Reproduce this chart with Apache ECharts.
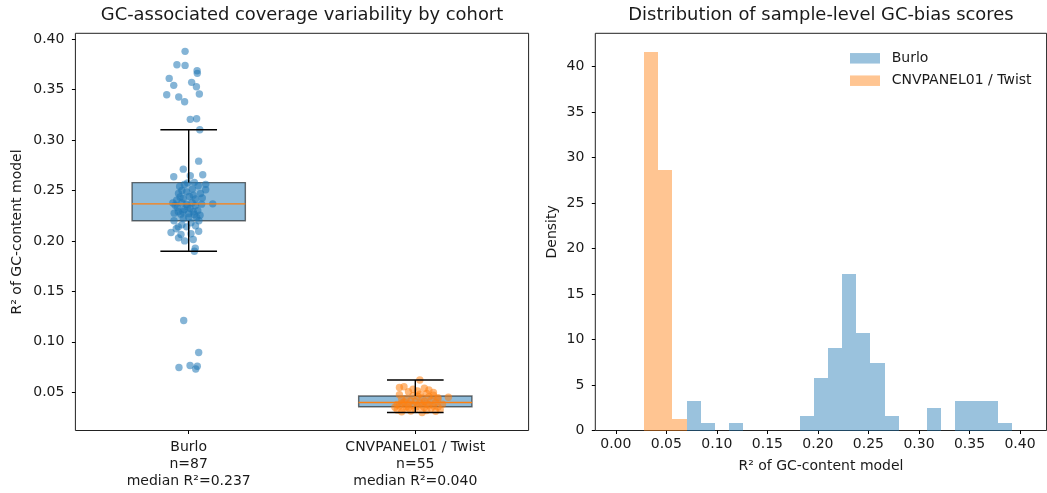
<!DOCTYPE html>
<html>
<head>
<meta charset="utf-8">
<script src="https://cdn.jsdelivr.net/npm/echarts@6/dist/echarts.min.js"></script>
<style>
  html, body { margin: 0; padding: 0; background: #fff; }
  #chart { width: 1047px; height: 493px; }
</style>
</head>
<body>
<div id="chart"></div>
<script>
// ---- data -------------------------------------------------------------
const cohorts = ['Burlo', 'CNVPANEL01 / Twist'];

// per-sample R² of the GC-content model: [horizontal jitter, R²]
const burloPoints = [
  [-0.016, 0.3878], [-0.052, 0.3745], [-0.016, 0.3739], [0.037, 0.3686], [0.038, 0.3660],
  [-0.086, 0.3610], [-0.066, 0.3541], [0.013, 0.3571], [0.034, 0.3527], [0.047, 0.3455],
  [-0.097, 0.3448], [-0.044, 0.3425], [-0.018, 0.3378], [0.007, 0.3204], [0.035, 0.3210],
  [0.049, 0.3101], [0.044, 0.2790], [-0.024, 0.2711],
  [-0.066, 0.2635], [0.007, 0.2645], [0.062, 0.2655], [-0.019, 0.2559], [0.025, 0.2580],
  [0.042, 0.2546], [0.075, 0.2560], [-0.005, 0.2575], [-0.040, 0.2540],
  [0.075, 0.2506], [0.016, 0.2513], [-0.009, 0.2486], [-0.038, 0.2436], [-0.024, 0.2420],
  [0.020, 0.2453], [-0.053, 0.2404], [0.052, 0.2470], [-0.030, 0.2500], [0.003, 0.2440],
  [-0.045, 0.2470], [0.030, 0.2415], [0.060, 0.2425],
  [0.057, 0.2364], [0.106, 0.2367], [-0.060, 0.2354], [0.006, 0.2321], [-0.046, 0.2288],
  [0.020, 0.2288], [0.050, 0.2255], [-0.070, 0.2376], [-0.030, 0.2375], [-0.010, 0.2360],
  [0.030, 0.2350], [-0.050, 0.2330], [-0.020, 0.2310], [0.040, 0.2300], [-0.064, 0.2275],
  [0.000, 0.2270], [-0.035, 0.2265], [0.015, 0.2378], [-0.005, 0.2340], [0.025, 0.2262],
  [-0.025, 0.2290],
  [-0.024, 0.2222], [-0.046, 0.2139], [-0.009, 0.2139], [0.035, 0.2232], [-0.065, 0.2200],
  [0.010, 0.2180], [-0.030, 0.2160], [0.045, 0.2200], [0.000, 0.2235], [-0.055, 0.2120],
  [0.030, 0.2150],
  [-0.078, 0.2083], [-0.034, 0.2063], [0.044, 0.2095], [-0.018, 0.2000], [0.020, 0.2014],
  [0.010, 0.2070], [-0.045, 0.2030],
  [0.029, 0.1928], [0.025, 0.1898],
  [-0.022, 0.1211], [0.044, 0.0894], [-0.043, 0.0745], [0.006, 0.0765], [0.038, 0.0758],
  [0.031, 0.0731]
];

const twistPoints = [
  [0.03, 0.0300], [-0.06, 0.0306], [0.09, 0.0311], [-0.02, 0.0315], [0.05, 0.0320],
  [-0.08, 0.0324], [0.11, 0.0328], [0.00, 0.0332], [-0.05, 0.0337], [0.07, 0.0341],
  [-0.03, 0.0345], [0.04, 0.0349], [-0.09, 0.0352], [0.10, 0.0355], [-0.04, 0.0357],
  [0.01, 0.0360], [0.08, 0.0363], [-0.07, 0.0366], [0.03, 0.0369], [-0.01, 0.0372],
  [0.06, 0.0375], [-0.08, 0.0378], [0.12, 0.0381], [-0.03, 0.0384], [0.05, 0.0388],
  [-0.06, 0.0391], [0.02, 0.0394], [0.09, 0.0398], [-0.05, 0.0403], [0.00, 0.0408],
  [0.04, 0.0412], [-0.02, 0.0416], [0.07, 0.0422], [-0.06, 0.0428], [0.10, 0.0433],
  [-0.04, 0.0438], [0.03, 0.0443], [0.10, 0.0447], [0.146, 0.0451], [0.06, 0.0455],
  [0.01, 0.0461], [-0.01, 0.0465], [0.08, 0.0470], [-0.07, 0.0476], [0.02, 0.0482],
  [0.05, 0.0489], [0.08, 0.0497], [-0.03, 0.0505], [0.01, 0.0513], [0.06, 0.0522],
  [-0.01, 0.0530], [0.04, 0.0540], [-0.07, 0.0547], [-0.05, 0.0555], [0.02, 0.0622]
];

// histogram bin edges (width 0.014)
const binEdges = [
  0.000, 0.014, 0.028, 0.042, 0.056, 0.070, 0.084, 0.098, 0.112, 0.126,
  0.140, 0.154, 0.168, 0.182, 0.196, 0.210, 0.224, 0.238, 0.252, 0.266,
  0.280, 0.294, 0.308, 0.322, 0.336, 0.350, 0.364, 0.378, 0.392, 0.406
];

const leftYTicks = [0.05, 0.40];   // first / last labelled tick, step 0.05
const rightXTicks = [0.00, 0.40];  // step 0.05
const rightYTicks = [0, 40];       // step 5

// ---- helpers ------------------------------------------------------------
const FONT = '"DejaVu Sans", "Liberation Sans", sans-serif';
const INK = '#1a1a1a';
const BLUE = '#1f77b4';
const ORANGE = '#ff7f0e';

function percentile(sorted, p) {
  const idx = (sorted.length - 1) * p;
  const lo = Math.floor(idx), hi = Math.ceil(idx);
  return sorted[lo] + (sorted[hi] - sorted[lo]) * (idx - lo);
}
function boxStats(values) {
  const s = values.slice().sort((a, b) => a - b);
  const q1 = percentile(s, 0.25), med = percentile(s, 0.5), q3 = percentile(s, 0.75);
  const iqr = q3 - q1;
  const lo = s.find(v => v >= q1 - 1.5 * iqr);
  const hi = s.slice().reverse().find(v => v <= q3 + 1.5 * iqr);
  return [lo, q1, med, q3, hi];
}
function histogramDensity(values) {
  const n = values.length;
  const counts = new Array(binEdges.length - 1).fill(0);
  values.forEach(v => {
    for (let i = 0; i < counts.length; i++) {
      const last = i === counts.length - 1;
      if (v >= binEdges[i] && (v < binEdges[i + 1] || (last && v <= binEdges[i + 1]))) {
        counts[i]++; break;
      }
    }
  });
  const out = [];
  counts.forEach((c, i) => {
    const w = binEdges[i + 1] - binEdges[i];
    if (c > 0) out.push([binEdges[i], binEdges[i + 1], c / (n * w)]);
  });
  return out;
}

const burloVals = burloPoints.map(p => p[1]);
const twistVals = twistPoints.map(p => p[1]);
const stats = [boxStats(burloVals), boxStats(twistVals)];
const histBurlo = histogramDensity(burloVals);
const histTwist = histogramDensity(twistVals);

const catLabels = cohorts.map((c, i) => {
  const n = i === 0 ? burloVals.length : twistVals.length;
  return c + '\nn=' + n + '\nmedian R²=' + stats[i][2].toFixed(3);
});

// ---- layout -------------------------------------------------------------
const L = { left: 75.4, top: 33.3, width: 453.2, height: 397.2 };
const R = { left: 595.3, top: 33.3, width: 451.3, height: 397.2 };

const allVals = burloVals.concat(twistVals);
const vMin = Math.min(...allVals), vMax = Math.max(...allVals);
const yPadL = 0.05 * (vMax - vMin);
const yL = [vMin - yPadL, vMax + yPadL];
const pyL = v => L.top + (yL[1] - v) / (yL[1] - yL[0]) * L.height;

const xSpan = binEdges[binEdges.length - 1] - binEdges[0];
const xR = [binEdges[0] - 0.05 * xSpan, binEdges[binEdges.length - 1] + 0.05 * xSpan];
const pxR = v => R.left + (v - xR[0]) / (xR[1] - xR[0]) * R.width;
const maxDensity = Math.max(...histBurlo.concat(histTwist).map(b => b[2]));
const yRmax = maxDensity * 1.05;
const pyR = v => R.top + (yRmax - v) / yRmax * R.height;

const tickStyle = { show: true, length: 3.5, lineStyle: { color: '#000', width: 1 } };
const labelStyle = { fontSize: 14, fontFamily: FONT, color: INK };
const hiddenValue = (grid) => ({ type: 'value', gridIndex: grid, show: false, min: 0, max: 1 });

// histogram bar: edges snapped to whole pixels so neighbouring bins meet without seams
function histBar(fill) {
  return (params, api) => {
    const a = api.coord([api.value(0), api.value(2)]);
    const b = api.coord([api.value(1), 0]);
    const x0 = Math.round(a[0]), x1 = Math.round(b[0]);
    const y0 = Math.round(a[1]), y1 = Math.round(b[1]);
    return { type: 'rect', shape: { x: x0, y: y0, width: x1 - x0, height: y1 - y0 },
      style: { fill: fill } };
  };
}

// ---- chart --------------------------------------------------------------
const chart = echarts.init(document.getElementById('chart'), null, { renderer: 'canvas' });

const option = {
  animation: false,
  backgroundColor: '#fff',
  grid: [
    { left: L.left, top: L.top, width: L.width, height: L.height, show: true, borderColor: '#222', borderWidth: 1 },
    { left: L.left, top: pyL(leftYTicks[1]), width: L.width, height: pyL(leftYTicks[0]) - pyL(leftYTicks[1]) },
    { left: R.left, top: R.top, width: R.width, height: R.height, show: true, borderColor: '#222', borderWidth: 1 },
    { left: pxR(rightXTicks[0]), top: R.top, width: pxR(rightXTicks[1]) - pxR(rightXTicks[0]), height: R.height },
    { left: R.left, top: pyR(rightYTicks[1]), width: R.width, height: pyR(rightYTicks[0]) - pyR(rightYTicks[1]) }
  ],
  xAxis: [
    { type: 'category', gridIndex: 0, data: catLabels, boundaryGap: true,
      axisLine: { show: false }, splitLine: { show: false },
      axisTick: Object.assign({ alignWithLabel: true }, tickStyle),
      axisLabel: Object.assign({ margin: 8, lineHeight: 17, interval: 0 }, labelStyle) },
    { type: 'value', gridIndex: 0, show: false, min: 0.5, max: 2.5 },
    hiddenValue(1),
    { type: 'value', gridIndex: 2, show: false, min: xR[0], max: xR[1] },
    { type: 'value', gridIndex: 3, min: rightXTicks[0], max: rightXTicks[1], interval: 0.05,
      axisLine: { show: false }, splitLine: { show: false }, axisTick: tickStyle,
      axisLabel: Object.assign({ margin: 7, formatter: v => v.toFixed(2) }, labelStyle) },
    hiddenValue(4)
  ],
  yAxis: [
    { type: 'value', gridIndex: 0, show: false, min: yL[0], max: yL[1] },
    { type: 'value', gridIndex: 1, min: leftYTicks[0], max: leftYTicks[1], interval: 0.05,
      axisLine: { show: false }, splitLine: { show: false }, axisTick: tickStyle,
      axisLabel: Object.assign({ margin: 11, formatter: v => v.toFixed(2) }, labelStyle) },
    { type: 'value', gridIndex: 2, show: false, min: 0, max: yRmax },
    hiddenValue(3),
    { type: 'value', gridIndex: 4, min: rightYTicks[0], max: rightYTicks[1], interval: 5,
      axisLine: { show: false }, splitLine: { show: false }, axisTick: tickStyle,
      axisLabel: Object.assign({ margin: 11, formatter: v => String(Math.round(v)) }, labelStyle) }
  ],
  legend: {
    data: cohorts,
    orient: 'vertical',
    left: 845, top: 45.3,
    itemWidth: 30, itemHeight: 10.5, itemGap: 6.4,
    icon: 'rect',
    selectedMode: false,
    formatter: name => '{p|}' + name,
    textStyle: { fontSize: 14, fontFamily: FONT, color: INK, lineHeight: 16,
      rich: { p: { width: 6.7 } } }
  },
  graphic: [
    { type: 'text', x: L.left + L.width / 2, y: 15.5, silent: true,
      style: { text: 'GC-associated coverage variability by cohort', fontSize: 17.9, fontFamily: FONT,
        fill: INK, align: 'center', verticalAlign: 'middle' } },
    { type: 'text', x: R.left + R.width / 2, y: 15.5, silent: true,
      style: { text: 'Distribution of sample-level GC-bias scores', fontSize: 17.9, fontFamily: FONT,
        fill: INK, align: 'center', verticalAlign: 'middle' } },
    { type: 'text', x: 17.3, y: L.top + L.height / 2, rotation: Math.PI / 2, silent: true,
      style: { text: 'R² of GC-content model', fontSize: 14, fontFamily: FONT,
        fill: INK, align: 'center', verticalAlign: 'middle' } },
    { type: 'text', x: 552.7, y: R.top + R.height / 2, rotation: Math.PI / 2, silent: true,
      style: { text: 'Density', fontSize: 14, fontFamily: FONT,
        fill: INK, align: 'center', verticalAlign: 'middle' } },
    { type: 'text', x: R.left + R.width / 2, y: 466, silent: true,
      style: { text: 'R² of GC-content model', fontSize: 14, fontFamily: FONT,
        fill: INK, align: 'center', verticalAlign: 'middle' } }
  ],
  series: [
    // box bodies
    { type: 'custom', name: 'box', xAxisIndex: 1, yAxisIndex: 0, z: 2,
      data: stats.map((s, i) => [i + 1].concat(s)),
      encode: { x: 0, y: [1, 2, 3, 4, 5] },
      renderItem: (params, api) => {
        const x = api.value(0);
        const a = api.coord([x - 0.25, api.value(4)]);
        const b = api.coord([x + 0.25, api.value(2)]);
        return { type: 'rect', shape: { x: a[0], y: a[1], width: b[0] - a[0], height: b[1] - a[1] },
          style: { fill: 'rgba(31,119,180,0.5)', stroke: 'rgba(0,0,0,0.55)', lineWidth: 1.4 } };
      } },
    // jittered samples
    { type: 'scatter', name: 'Burlo samples', xAxisIndex: 1, yAxisIndex: 0, z: 3,
      symbolSize: 7.4, data: burloPoints.map(p => [1 + p[0], p[1]]),
      itemStyle: { color: BLUE, opacity: 0.55 } },
    { type: 'scatter', name: 'Twist samples', xAxisIndex: 1, yAxisIndex: 0, z: 3,
      symbolSize: 7.4, data: twistPoints.map(p => [2 + p[0], p[1]]),
      itemStyle: { color: ORANGE, opacity: 0.55 } },
    // whiskers, caps and medians
    { type: 'custom', name: 'whiskers', xAxisIndex: 1, yAxisIndex: 0, z: 4,
      data: stats.map((s, i) => [i + 1].concat(s)),
      encode: { x: 0, y: [1, 2, 3, 4, 5] },
      renderItem: (params, api) => {
        const x = api.value(0);
        const c = (xx, v) => api.coord([xx, v]);
        const seg = (p, q, col) => ({ type: 'line',
          shape: { x1: p[0], y1: p[1], x2: q[0], y2: q[1] },
          style: { stroke: col, lineWidth: 1.4 } });
        const lo = api.value(1), q1 = api.value(2), med = api.value(3), q3 = api.value(4), hi = api.value(5);
        return { type: 'group', children: [
          seg(c(x, lo), c(x, q1), '#000'),
          seg(c(x, q3), c(x, hi), '#000'),
          seg(c(x - 0.125, lo), c(x + 0.125, lo), '#000'),
          seg(c(x - 0.125, hi), c(x + 0.125, hi), '#000'),
          seg(c(x - 0.25, med), c(x + 0.25, med), ORANGE)
        ] };
      } },
    // density histograms
    { type: 'custom', name: cohorts[0], xAxisIndex: 3, yAxisIndex: 2, z: 2,
      data: histBurlo, encode: { x: [0, 1], y: 2 },
      itemStyle: { color: 'rgba(31,119,180,0.45)' },
      renderItem: histBar('rgba(31,119,180,0.45)') },
    { type: 'custom', name: cohorts[1], xAxisIndex: 3, yAxisIndex: 2, z: 2,
      data: histTwist, encode: { x: [0, 1], y: 2 },
      itemStyle: { color: 'rgba(255,127,14,0.45)' },
      renderItem: histBar('rgba(255,127,14,0.45)') }
  ]
};

chart.setOption(option);
</script>
</body>
</html>
